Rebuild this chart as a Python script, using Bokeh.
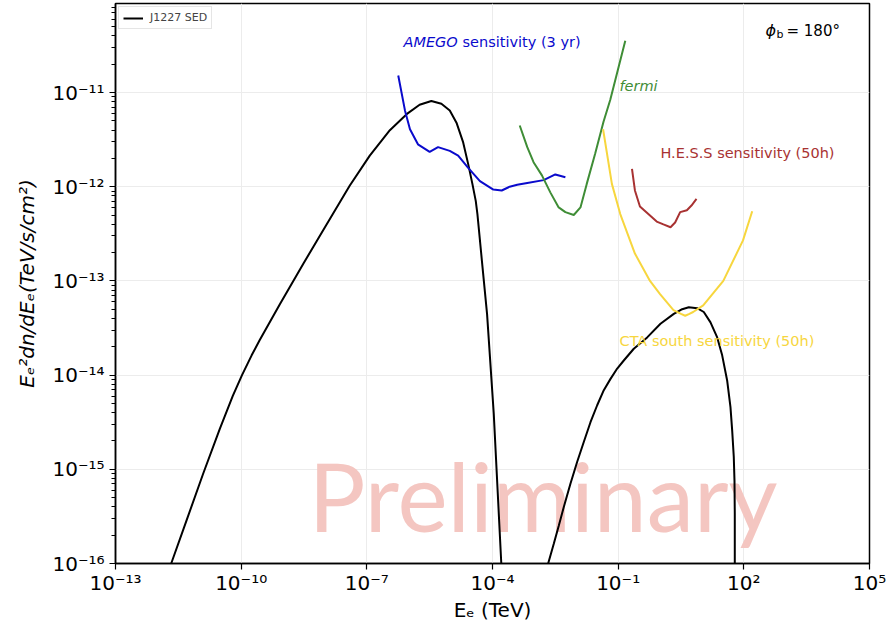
import numpy as np
from bokeh.plotting import figure
from bokeh.models import FixedTicker, CustomJSTickFormatter, Label, Legend, LegendItem, ColumnDataSource
from bokeh.core.properties import value
from bokeh.embed import file_html
from bokeh.resources import INLINE

# ---------------- data (log10 values) ----------------
sync_logE = [-11.67, -11.31, -10.91, -10.51, -10.2, -9.98, -9.75, -9.56, -9.08, -8.52, -8.0, -7.41,
             -6.93, -6.45, -6.05, -5.74, -5.46, -5.22, -5.02, -4.86, -4.70, -4.58, -4.48, -4.40,
             -4.36, -4.25, -4.13, -3.97, -3.85, -3.79]
sync_logF = [-16.0, -15.55, -15.05, -14.57, -14.22, -14.00, -13.79, -13.63, -13.25, -12.82, -12.43, -11.99,
             -11.67, -11.40, -11.23, -11.13, -11.09, -11.12, -11.19, -11.32, -11.53, -11.76, -11.97, -12.15,
             -12.29, -12.80, -13.35, -14.41, -15.47, -16.0]

ic_logE = [-2.671, -2.537, -2.418, -2.298, -2.138, -1.978, -1.821, -1.661, -1.501, -1.343, -1.183,
           -1.023, -0.866, -0.627, -0.307, 0.010, 0.328, 0.528, 0.686, 0.886, 1.044, 1.204, 1.364,
           1.483, 1.603, 1.681, 1.722, 1.760, 1.777, 1.784, 1.784]
ic_logF = [-16.0, -15.79, -15.60, -15.40, -15.15, -14.92, -14.71, -14.50, -14.32, -14.16, -14.04,
           -13.93, -13.845, -13.72, -13.60, -13.455, -13.35, -13.30, -13.28, -13.29, -13.33, -13.44, -13.60,
           -13.79, -14.06, -14.34, -14.59, -14.87, -15.12, -15.47, -16.0]

amego_logE = [-6.25, -6.09, -5.97, -5.78, -5.50, -5.30, -5.02, -4.82, -4.58, -4.30, -3.98, -3.78,
              -3.59, -3.41, -3.17, -2.78, -2.50, -2.26]
amego_logF = [-10.82, -11.19, -11.39, -11.55, -11.63, -11.58, -11.62, -11.67, -11.80, -11.94, -12.03, -12.04,
              -12.00, -11.98, -11.96, -11.93, -11.87, -11.90]

fermi_logE = [-3.35, -3.17, -3.02, -2.82, -2.62, -2.42, -2.26, -2.06, -1.90, -1.75, -1.55, -1.35, -1.19, -0.83]
fermi_logF = [-11.35, -11.58, -11.74, -11.88, -12.06, -12.22, -12.27, -12.30, -12.22, -11.97, -11.65, -11.31,
              -11.08, -10.45]

hess_logE = [-0.67, -0.60, -0.48, -0.28, -0.08, 0.08, 0.25, 0.36, 0.48, 0.64, 0.75, 0.87]
hess_logF = [-11.81, -12.04, -12.21, -12.29, -12.37, -12.40, -12.43, -12.38, -12.27, -12.25, -12.20, -12.13]

cta_logE = [-1.36, -1.15, -0.95, -0.60, -0.24, 0.0, 0.32, 0.50, 0.60, 0.70, 0.79, 1.03, 1.51, 1.98, 2.20]
cta_logF = [-11.39, -11.97, -12.29, -12.71, -13.0, -13.14, -13.31, -13.35, -13.37, -13.35, -13.33, -13.26,
            -13.0, -12.57, -12.26]

x_ticks = [1e-13, 1e-10, 1e-7, 1e-4, 1e-1, 1e2, 1e5]
y_ticks = [1e-16, 1e-15, 1e-14, 1e-13, 1e-12, 1e-11]
Y_TOP = 10 ** -10.055


def tolin(a):
    return [10.0 ** v for v in a]


p = figure(width=888, height=633, x_axis_type="log", y_axis_type="log",
           x_range=(1e-13, 1e5), y_range=(1e-16, Y_TOP),
           output_backend="svg", toolbar_location=None,
           min_border_left=115, min_border_right=19, min_border_top=3, min_border_bottom=70)
p.background_fill_color = "white"
p.border_fill_color = "white"
p.outline_line_color = "black"
p.outline_line_width = 1.5

# watermark
wm = ColumnDataSource(dict(x=[10 ** -8.39], y=[10 ** -15.276], t=["Preliminary"]))
p.text(x="x", y="y", text="t", source=wm, text_font=value("Lato"), text_font_size="95px",
       text_color="#f4c6c1", text_baseline="alphabetic", text_align="left")

r_sync = p.line(tolin(sync_logE), tolin(sync_logF), line_color="black", line_width=2)
p.line(tolin(ic_logE), tolin(ic_logF), line_color="black", line_width=2)
p.line(tolin(amego_logE), tolin(amego_logF), line_color="#0a0acc", line_width=2)
p.line(tolin(fermi_logE), tolin(fermi_logF), line_color="#3f8d36", line_width=2)
p.line(tolin(cta_logE), tolin(cta_logF), line_color="#f7d63e", line_width=2)
p.line(tolin(hess_logE), tolin(hess_logF), line_color="#a83232", line_width=2)

fmt = CustomJSTickFormatter(code="""
const sup = {'-':'\u207b','0':'\u2070','1':'\u00b9','2':'\u00b2','3':'\u00b3','4':'\u2074','5':'\u2075','6':'\u2076','7':'\u2077','8':'\u2078','9':'\u2079'};
const e = Math.round(Math.log10(tick));
return '10' + String(e).split('').map(c => sup[c]).join('');
""")

minor_y = []
for n in range(-16, -10):
    for k in range(2, 10):
        v = k * 10.0 ** n
        if v < Y_TOP:
            minor_y.append(v)

p.xaxis.ticker = FixedTicker(ticks=x_ticks, minor_ticks=[])
p.yaxis.ticker = FixedTicker(ticks=y_ticks, minor_ticks=minor_y)
for ax in (p.xaxis, p.yaxis):
    ax.formatter = fmt
    ax.major_label_text_font = "DejaVu Sans"
    ax.major_label_text_font_size = "20px"
    ax.major_label_text_color = "black"
    ax.axis_label_text_font = "DejaVu Sans"
    ax.axis_label_text_font_size = "20px"
    ax.axis_label_text_color = "black"
    ax.axis_line_width = 1.5
    ax.major_tick_in = 0
    ax.major_tick_out = 6
    ax.minor_tick_in = 0
    ax.minor_tick_out = 4
    ax.major_tick_line_width = 1.2
    ax.minor_tick_line_width = 1.0

p.xaxis.major_label_standoff = 1
p.xaxis.axis_label = "E\u2091 (TeV)"
p.xaxis.axis_label_text_font_style = "normal"
p.xaxis.axis_label_standoff = 0
p.yaxis.axis_label = "E\u2091\u00b2dn/dE\u2091(TeV/s/cm\u00b2)"
p.yaxis.axis_label_text_font_style = "italic"
p.yaxis.axis_label_standoff = 10

p.xgrid.grid_line_color = "#ececec"
p.ygrid.grid_line_color = "#ececec"
p.xgrid.grid_line_width = 1
p.ygrid.grid_line_width = 1

# annotations
fs = "14.5px"
F = "DejaVu Sans"
p.add_layout(Label(x=10 ** -6.125, y=10 ** -10.469, text="AMEGO", text_font=F,
                   text_font_style="italic", text_font_size=fs, text_color="#0a0acc",
                   text_baseline="middle"))
p.add_layout(Label(x=10 ** -6.125, y=10 ** -10.469, x_offset=59, text="sensitivity (3 yr)",
                   text_font=F, text_font_size=fs, text_color="#0a0acc",
                   text_baseline="middle"))
p.add_layout(Label(x=10 ** -0.968, y=10 ** -10.936, text="fermi", text_font=F,
                   text_font_style="italic", text_font_size=fs, text_color="#3f8d36",
                   text_baseline="middle"))
p.add_layout(Label(x=10 ** 0.010, y=10 ** -11.637, text="H.E.S.S sensitivity (50h)",
                   text_font=F, text_font_size=fs, text_color="#a83232",
                   text_baseline="middle"))
p.add_layout(Label(x=10 ** -0.968, y=10 ** -13.643, text="CTA south sensitivity (50h)",
                   text_font=F, text_font_size=fs, text_color="#f7d63e",
                   text_baseline="middle"))
p.add_layout(Label(x=10 ** 2.517, y=10 ** -10.342, text="\u03d5", text_font=F,
                   text_font_style="italic", text_font_size="16px", text_color="black",
                   text_baseline="middle"))
p.add_layout(Label(x=10 ** 2.517, y=10 ** -10.342, x_offset=11, y_offset=-4, text="b",
                   text_font=F, text_font_size="11px", text_color="black",
                   text_baseline="middle"))
p.add_layout(Label(x=10 ** 2.517, y=10 ** -10.342, x_offset=21, text="= 180\u00b0",
                   text_font=F, text_font_size="15px", text_color="black",
                   text_baseline="middle"))

legend = Legend(items=[LegendItem(label="J1227 SED", renderers=[r_sync])], location="top_left")
legend.label_text_font = "DejaVu Sans"
legend.label_text_font_size = "11px"
legend.glyph_width = 20
legend.glyph_height = 12
legend.padding = 4
legend.margin = 3
legend.label_standoff = 7
legend.border_line_color = "#cccccc"
legend.border_line_width = 1
legend.background_fill_alpha = 0.9
p.add_layout(legend)

open("out.html", "w").write(file_html(p, INLINE))
